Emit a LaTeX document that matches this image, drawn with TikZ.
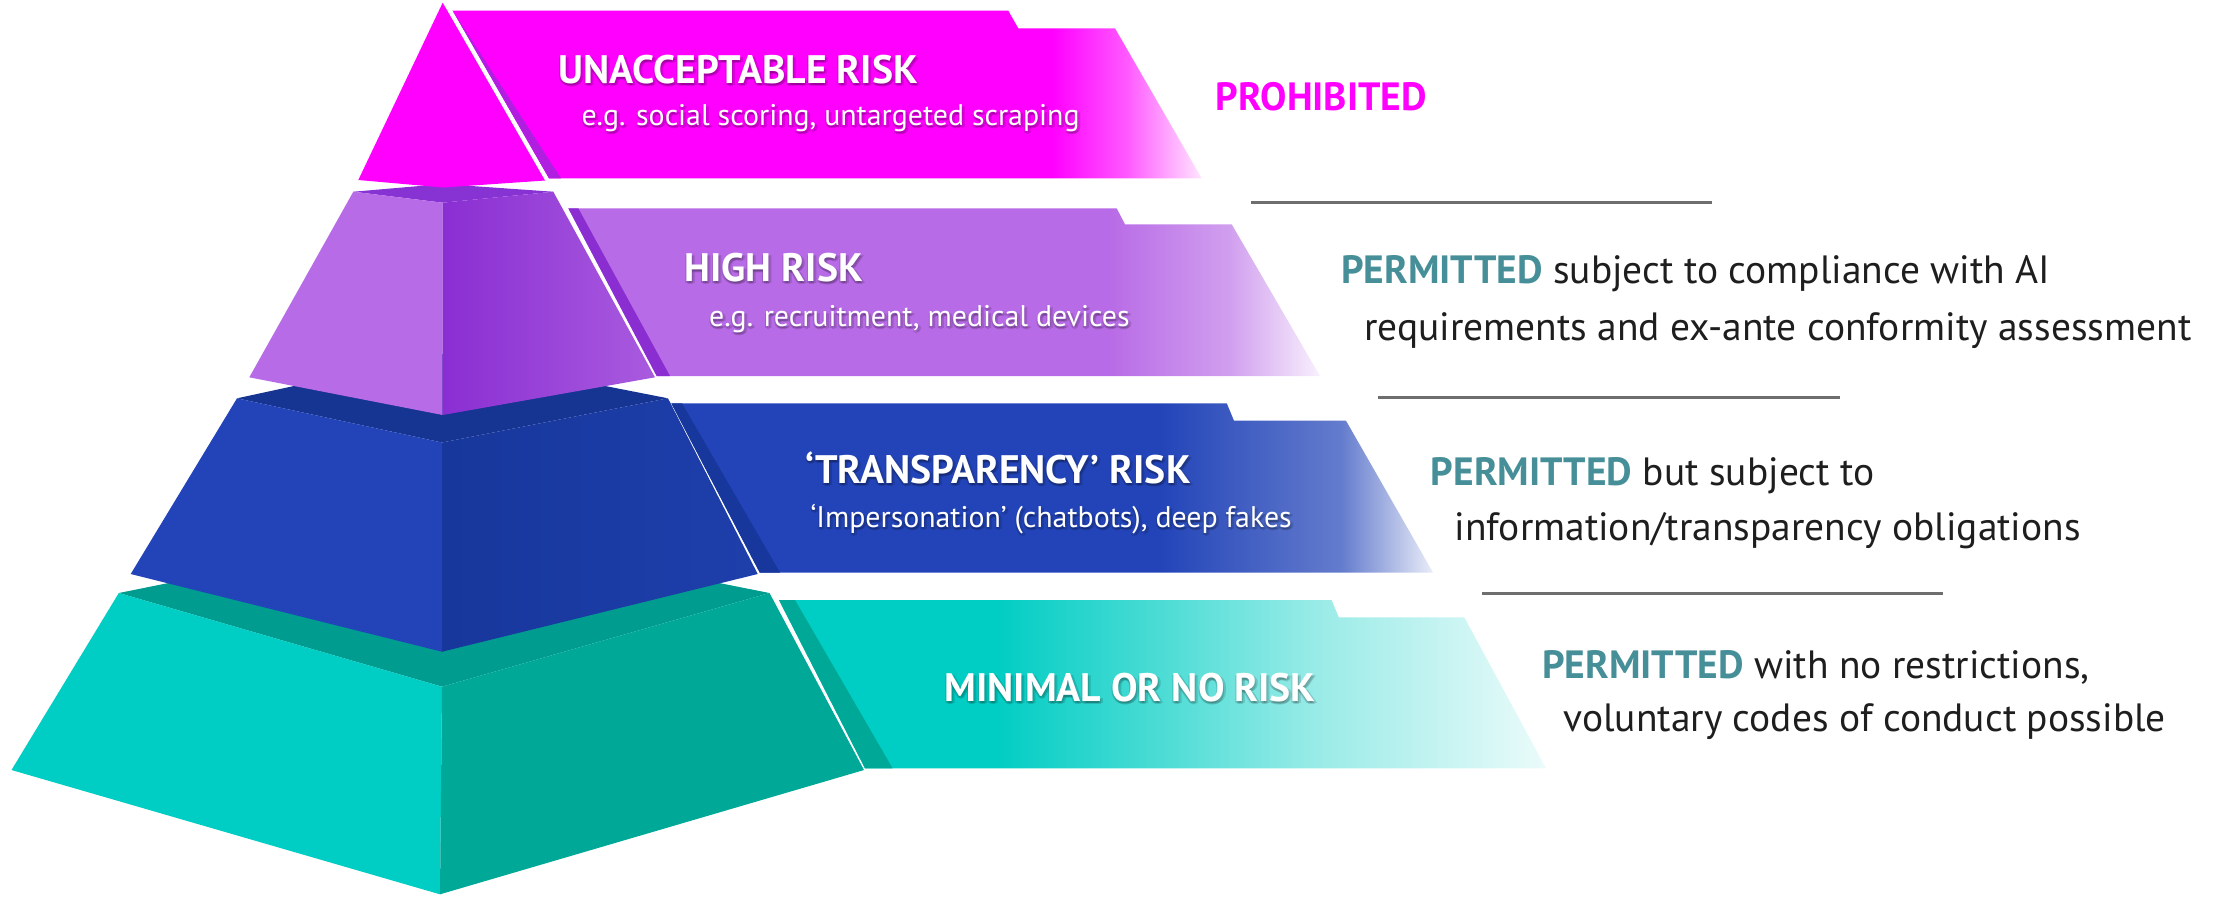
\documentclass[tikz,border=0pt]{standalone}
\usepackage{fontspec}
\setmainfont{PT Sans}
\definecolor{cMag}{HTML}{FF00FF}
\definecolor{cMagS}{HTML}{B01EE0}
\definecolor{cPur}{HTML}{B86BE6}
\definecolor{cPurR}{HTML}{8A2ED2}
\definecolor{cPurR2}{HTML}{A95BDF}
\definecolor{cPurT}{HTML}{8733D4}
\definecolor{cBlu}{HTML}{2244B8}
\definecolor{cBluR}{HTML}{17379C}
\definecolor{cBluR2}{HTML}{1E3FAB}
\definecolor{cBluT}{HTML}{163491}
\definecolor{cTea}{HTML}{00CDC3}
\definecolor{cTeaR}{HTML}{00A898}
\definecolor{cTeaT}{HTML}{009C8F}
\definecolor{cPerm}{HTML}{468F98}
\definecolor{cTxt}{HTML}{1E1E1E}
\definecolor{cLine}{HTML}{6E6E6E}
\pgfdeclarehorizontalshading{fadeMag}{100bp}{color(0bp)=(cMag); color(65bp)=(cMag); color(70bp)=(cMag!65!white); color(75bp)=(cMag!10!white); color(100bp)=(cMag!10!white)}
\pgfdeclarehorizontalshading{fadePur}{100bp}{color(0bp)=(cPur); color(61bp)=(cPur); color(69bp)=(cPur!65!white); color(75bp)=(cPur!10!white); color(100bp)=(cPur!10!white)}
\pgfdeclarehorizontalshading{fadeBlu}{100bp}{color(0bp)=(cBlu); color(57bp)=(cBlu); color(69bp)=(cBlu!70!white); color(75bp)=(cBlu!10!white); color(100bp)=(cBlu!10!white)}
\pgfdeclarehorizontalshading{fadeTea}{100bp}{color(0bp)=(cTea); color(39bp)=(cTea); color(50bp)=(cTea!70!white); color(60bp)=(cTea!40!white); color(75bp)=(cTea!8!white); color(100bp)=(cTea!8!white)}
\newcommand\bandtxt[5]{%
  \node[#2,shd] (#1-s1) at (#3+1,#4+3) {#5};
  \node[#2,shd] (#1-s2) at (#3+3,#4+2) {#5};
  \node[#2,shd] (#1-s3) at (#3-1,#4+2) {#5};
  \node[#2] (#1) at (#3,#4) {#5};}
\begin{document}
\begin{tikzpicture}[x=0.36pt,y=-0.36pt,
  ttl/.style={anchor=base west,inner sep=0pt,font=\fontsize{14.3}{16}\selectfont\bfseries,text=white},
  sub/.style={anchor=base west,inner sep=0pt,font=\fontsize{10.75}{12}\selectfont,text=white},
  shd/.style={text=black,opacity=0.14},
  rtxt/.style={anchor=base west,inner sep=0pt,font=\fontsize{14.2}{16}\selectfont,text=cTxt},
  sep/.style={draw=cLine,line width=1pt}]
\useasboundingbox (0,0) rectangle (2226,896);
% ---------- tier 4 (teal)
\fill[cTeaT] (118.8,593) -- (442,528) -- (769.5,593) -- (442,686.7) -- cycle;
\fill[cTea] (118.8,593) -- (442,686.7) -- (440,894.3) -- (11.5,770) -- cycle;
\fill[cTeaR] (442,686.7) -- (769.5,593) -- (864,770) -- (440,894.3) -- cycle;
\shade[shading=fadeTea] (779,600) -- (1331.6,600) -- (1338.8,617.3) -- (1464.3,617.3) -- (1546,768.3) -- (865,768.3) -- cycle;
\fill[cTeaR] (779,600) -- (795,600) -- (892.6,768.3) -- (865,768.3) -- cycle;
% ---------- tier 3 (blue)
\fill[cBluT] (237,398.3) -- (442,354) -- (668,398.3) -- (442,442.5) -- cycle;
\fill[cBlu] (237,398.3) -- (442,442.5) -- (442,651.7) -- (130.7,574) -- cycle;
\shade[left color=cBluR,right color=cBluR2] (442,442.5) -- (668,398.3) -- (757.7,574) -- (442,651.7) -- cycle;
\shade[shading=fadeBlu] (671.3,403.3) -- (1226.8,403.3) -- (1234,420.7) -- (1346,420.7) -- (1433,572.5) -- (759.7,572.5) -- cycle;
\fill[cBluR] (671.3,403.3) -- (682,403.3) -- (780,572.5) -- (759.7,572.5) -- cycle;
% ---------- tier 2 (purple)
\fill[cPurT] (353.3,191.7) -- (442.7,184) -- (553.3,191.7) -- (442.7,202.7) -- cycle;
\fill[cPur] (353.3,191.7) -- (442.7,202.7) -- (442.7,415) -- (249.3,377.3) -- cycle;
\shade[left color=cPurR,right color=cPurR2] (442.7,202.7) -- (553.3,191.7) -- (655,377.3) -- (442.7,415) -- cycle;
\shade[shading=fadePur] (568.3,208.3) -- (1116.7,208.3) -- (1125,224.3) -- (1231.7,224.3) -- (1320,376) -- (656.7,376) -- cycle;
\fill[cPurR] (568.3,208.3) -- (578.3,208.3) -- (670,376) -- (656.7,376) -- cycle;
% ---------- tier 1 (magenta)
\fill[cMag] (442.7,2.7) -- (545,180.5) -- (443.3,187.5) -- (358.3,180) -- cycle;
\shade[shading=fadeMag] (452.7,10.7) -- (1008.3,10.7) -- (1018.3,28.3) -- (1115,28.3) -- (1201.7,178.3) -- (549,178.3) -- cycle;
\fill[cMagS] (452.7,10.7) -- (549,178.3) -- (561,178.3) -- cycle;
% ---------- band texts
\bandtxt{t1}{ttl}{558}{83}{UNACCEPTABLE RISK}
\bandtxt{s1}{sub}{581}{125}{e.g. social scoring, untargeted scraping}
\bandtxt{t2}{ttl}{684}{281.7}{HIGH RISK}
\bandtxt{s2}{sub}{708.6}{326.7}{e.g. recruitment, medical devices}
\bandtxt{t3}{ttl}{805}{483}{‘TRANSPARENCY’ RISK}
\bandtxt{s3}{sub}{810}{527.7}{‘Impersonation’ (chatbots), deep fakes}
\bandtxt{t4}{ttl}{944}{701.7}{MINIMAL OR NO RISK}
% ---------- right side
\node[rtxt,font=\fontsize{14.2}{16}\selectfont\bfseries,text=cMag] (proh) at (1215,110) {PROHIBITED};
\coordinate (l1a) at (1251,202.7); \coordinate (l1b) at (1712,202.7);
\draw[sep] (l1a) -- (l1b);
\node[rtxt] (r2a) at (1340.7,283.6) {\textcolor{cPerm}{\bfseries PERMITTED} subject to compliance with AI};
\node[rtxt] (r2b) at (1363.6,340.7) {requirements and ex-ante conformity assessment};
\coordinate (l2a) at (1378,397.5); \coordinate (l2b) at (1840,397.5);
\draw[sep] (l2a) -- (l2b);
\node[rtxt] (r3a) at (1430.4,485) {\textcolor{cPerm}{\bfseries PERMITTED} but subject to};
\node[rtxt] (r3b) at (1454,540.7) {information/transparency obligations};
\coordinate (l3a) at (1482,593.3); \coordinate (l3b) at (1943,593.3);
\draw[sep] (l3a) -- (l3b);
\node[rtxt] (r4a) at (1541.6,678) {\textcolor{cPerm}{\bfseries PERMITTED} with no restrictions,};
\node[rtxt] (r4b) at (1563,731.8) {voluntary codes of conduct possible};
\end{tikzpicture}
\end{document}
